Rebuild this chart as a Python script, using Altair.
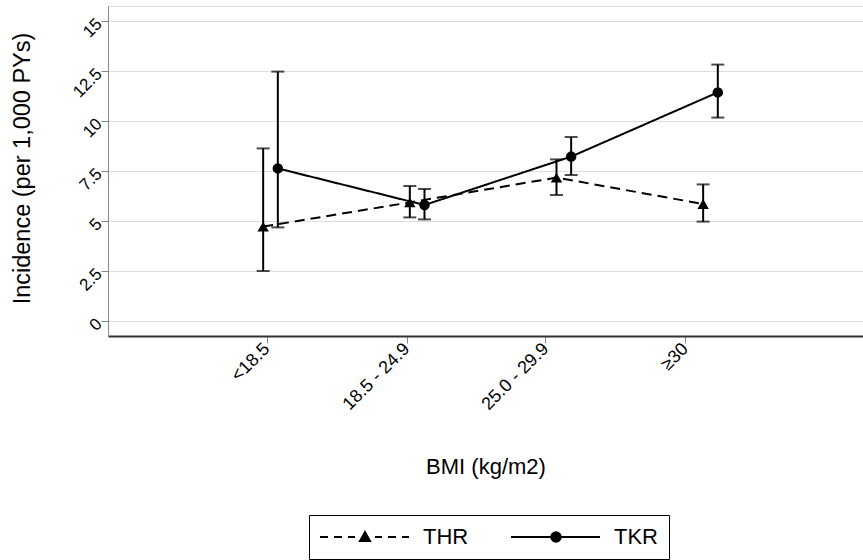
import altair as alt
import pandas as pd

# ---- data ----
categories = ["<18.5", "18.5 - 24.9", "25.0 - 29.9", "≥30"]
cat_index = [1, 2, 3, 4]
tick_pos = [0.973, 1.928, 2.875, 3.827]
series = ["THR", "TKR"]
thr_rate = [4.72, 5.93, 7.17, 5.85]
thr_lo = [2.50, 5.18, 6.30, 4.97]
thr_hi = [8.63, 6.75, 8.08, 6.83]
tkr_rate = [7.63, 5.80, 8.22, 11.43]
tkr_lo = [4.68, 5.08, 7.30, 10.17]
tkr_hi = [12.47, 6.60, 9.20, 12.82]
y_ticks = [0, 2.5, 5, 7.5, 10, 12.5, 15]
dodge = {"THR": -0.05, "TKR": 0.05}

rows = []
for s, r, lo, hi in [("THR", thr_rate, thr_lo, thr_hi), ("TKR", tkr_rate, tkr_lo, tkr_hi)]:
    for i, c in enumerate(categories):
        rows.append({"series": s, "bmi": c, "x": cat_index[i] + dodge[s],
                     "rate": r[i], "lo": lo[i], "hi": hi[i]})
df = pd.DataFrame(rows)

FONT = "Liberation Sans"

# x tick label expression
expr = f"'{categories[-1]}'"
for i in reversed(range(len(categories) - 1)):
    mid = (tick_pos[i] + tick_pos[i + 1]) / 2
    expr = f"datum.value < {mid:.3f} ? '{categories[i]}' : " + expr

x_scale = alt.Scale(domain=[-0.108, 5.04], nice=False, zero=False)
y_scale = alt.Scale(domain=[-0.75, 15.75], nice=False, zero=False)

x_axis = alt.Axis(values=tick_pos, labelExpr=expr, labelAngle=-45, labelAlign="right",
                  labelBaseline="middle", labelFontSize=18, labelPadding=3,
                  title="BMI (kg/m2)", titleFontSize=22, titleFontWeight="normal",
                  titleY=137, titleBaseline="alphabetic", grid=False, tickSize=7,
                  domainWidth=2, domainColor="#333333")
y_axis = alt.Axis(values=y_ticks, labelExpr="datum.value + ''", labelAngle=-45, labelAlign="right",
                  labelBaseline="middle", labelFontSize=17, labelPadding=2,
                  title="Incidence (per 1,000 PYs)", titleFontSize=23.5, titleFontWeight="normal",
                  titleAngle=-90, titleX=-79, titleY=162, titleBaseline="alphabetic",
                  titleAlign="center", grid=True, tickSize=7)

def X():
    return alt.X("x:Q", scale=x_scale, axis=x_axis)

def Y(field):
    return alt.Y(field, type="quantitative", scale=y_scale, axis=y_axis)

base = alt.Chart(df)

# legend symbols: custom SVG paths (1 path unit = 1 px with symbolSize 4),
# stroked only, so the markers are built from nested outlines
SH = -10  # horizontal shift of the whole glyph

def seg(a, b):
    return f"M{a + SH},0H{b + SH}"

def tri(cx, s):
    return (f"M{cx - 5 * s + SH},{4 * s}L{cx + 5 * s + SH},{4 * s}"
            f"L{cx + SH},{-5 * s}Z")

def circ(cx, r):
    return (f"M{cx + r + SH},0A{r},{r} 0 1,1 {cx - r + SH},0"
            f"A{r},{r} 0 1,1 {cx + r + SH},0Z")

thr_path = "".join([seg(-1, 7), seg(13, 21), seg(27, 34), seg(54, 61), seg(67, 75), seg(81, 88),
                    tri(44, 1.0), tri(44, 0.7), tri(44, 0.4), tri(44, 0.15)])
tkr_path = "".join([seg(-1, 88), circ(44, 4.8), circ(44, 3.2), circ(44, 1.6), circ(44, 0.4)])

lines = base.mark_line(color="black", strokeWidth=2).encode(
    x=X(), y=Y("rate"),
    strokeDash=alt.StrokeDash("series:N", scale=alt.Scale(domain=series, range=[[10, 6], [1, 0]]),
                              legend=None),
)

bars = base.mark_rule(color="black", strokeWidth=2).encode(
    x=X(), y=Y("lo"), y2="hi"
)

caps = base.transform_fold(["lo", "hi"], as_=["end", "val"]).mark_tick(
    orient="horizontal", size=13, thickness=2, color="black"
).encode(x=X(), y=Y("val"))

pts_thr = base.transform_filter(alt.datum.series == "THR").mark_point(
    filled=True, color="black", opacity=1, shape="triangle-up", size=130
).encode(x=X(), y=Y("rate"))

pts_tkr = base.transform_filter(alt.datum.series == "TKR").mark_point(
    filled=True, color="black", opacity=1, shape="circle", size=110
).encode(x=X(), y=Y("rate"))

legend_layer = base.mark_point(filled=False, color="black", strokeWidth=2, opacity=0).encode(
    x=X(), y=Y("rate"),
    shape=alt.Shape("series:N", scale=alt.Scale(domain=series, range=[thr_path, tkr_path]),
                    legend=alt.Legend(title=None, orient="none", legendX=201, legendY=509,
                                      direction="horizontal", padding=11, strokeColor="black",
                                      labelFont=FONT, labelFontSize=22, labelColor="black",
                                      symbolSize=4, symbolStrokeWidth=2,
                                      symbolStrokeColor="black",
                                      labelOffset=81, columnPadding=38, cornerRadius=0)),
)

chart = alt.layer(lines, bars, caps, pts_thr, pts_tkr, legend_layer).resolve_scale(
    strokeDash="independent"
).properties(
    width=755, height=330,
    autosize=alt.AutoSizeParams(type="none"),
    padding={"left": 108, "top": 6, "right": 0, "bottom": 224},
).configure_view(stroke=None).configure_axis(
    labelFont=FONT, titleFont=FONT, labelColor="black", titleColor="black",
    domainColor="black", tickColor="black", domainWidth=1.5, tickWidth=1.5,
    gridColor="#e8f0f0", gridWidth=1.5,
).configure(background="white")

chart.save("out.html", embed_options={"renderer": "svg", "actions": False})
